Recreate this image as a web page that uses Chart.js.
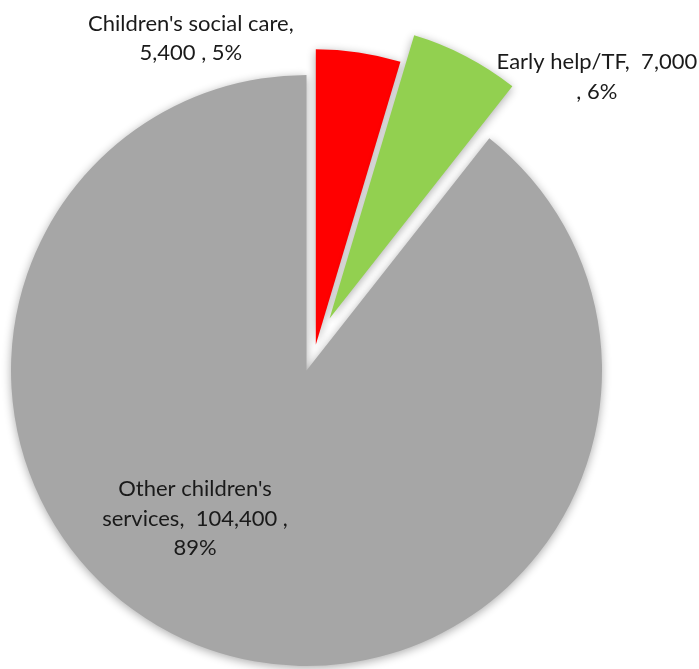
<!DOCTYPE html>
<html>
<head>
<meta charset="utf-8">
<script src="https://cdn.jsdelivr.net/npm/chart.js@4.4.0/dist/chart.umd.min.js"></script>
<style>
  html, body { margin: 0; padding: 0; background: #fff; }
  #wrap { width: 699px; height: 669px; }
</style>
</head>
<body>
<div id="wrap"><canvas id="spendChart"></canvas></div>
<script>
const categories = ["Children's social care", 'Early help/TF', "Other children's services"]
const spend = [5400, 7000, 104400]
const shares = ['5%', '6%', '89%']
const sliceColors = ['#ff0000', '#92d050', '#a6a6a6']

// pulled-out slices: distance in px and direction in deg from 12 o'clock
const explode = [[27.3, 19.9], [56.9, 23.9], [0, 0]]

// label text, split into lines the way they wrap
const labelLines = [
    ["Children's social care,", '5,400 , 5%'],
    ['Early help/TF,  7,000', ', 6%'],
    ["Other children's", 'services,  104,400 ,', '89%']
]
// where each label sits: angle from 12 o'clock (deg) and distance as share of radius
const labelPolar = [[-19.2, 1.19], [44.7, 1.397], [-143, 0.627]]

// v4's own arc offset shrinks and widens the slice, so shift the exploded
// slices by hand and let the arc element draw them unchanged
const explodeSlices = {
    id: 'explodeSlices',
    afterDatasetUpdate(chart, args) {
        args.meta.data.forEach(function (arc, i) {
            const d = explode[i][0]
            if (!d) return
            const a = explode[i][1] * Math.PI / 180
            const dx = Math.sin(a) * d
            const dy = -Math.cos(a) * d
            arc.draw = function (ctx) {
                ctx.save()
                ctx.translate(dx, dy)
                Chart.ArcElement.prototype.draw.call(this, ctx)
                ctx.restore()
            }
        })
    }
}

const sliceShadow = {
    id: 'sliceShadow',
    beforeDatasetsDraw(chart) {
        const ctx = chart.ctx
        ctx.save()
        ctx.shadowColor = 'rgba(0,0,0,0.33)'
        ctx.shadowBlur = 10
        ctx.shadowOffsetY = 2
    },
    afterDatasetsDraw(chart) {
        chart.ctx.restore()
    }
}

const sliceLabels = {
    id: 'sliceLabels',
    afterDatasetsDraw(chart) {
        const ctx = chart.ctx
        const meta = chart.getDatasetMeta(0)
        const radius = meta.controller.outerRadius
        ctx.save()
        ctx.font = '22px Lato, "Open Sans", sans-serif'
        ctx.fillStyle = '#1a1a1a'
        ctx.textAlign = 'center'
        ctx.textBaseline = 'middle'
        meta.data.forEach(function (arc, i) {
            const r = radius * labelPolar[i][1]
            const a = labelPolar[i][0] * Math.PI / 180
            const cx = arc.x + Math.sin(a) * r
            const cy = arc.y - Math.cos(a) * r
            const lines = labelLines[i]
            const lh = 29.5
            lines.forEach(function (t, k) {
                ctx.fillText(t, cx, cy + (k - (lines.length - 1) / 2) * lh)
            })
        })
        ctx.restore()
    }
}

new Chart(document.getElementById('spendChart'), {
    type: 'pie',
    data: {
        labels: categories,
        datasets: [{
            data: spend,
            backgroundColor: sliceColors,
            borderWidth: 0,
            radius: 295.5
        }]
    },
    options: {
        responsive: true,
        maintainAspectRatio: false,
        animation: false,
        layout: {
            padding: { left: 0, right: 86, top: 72, bottom: 0 }
        },
        plugins: {
            legend: { display: false },
            tooltip: { enabled: false }
        }
    },
    plugins: [explodeSlices, sliceShadow, sliceLabels]
})
</script>
</body>
</html>
